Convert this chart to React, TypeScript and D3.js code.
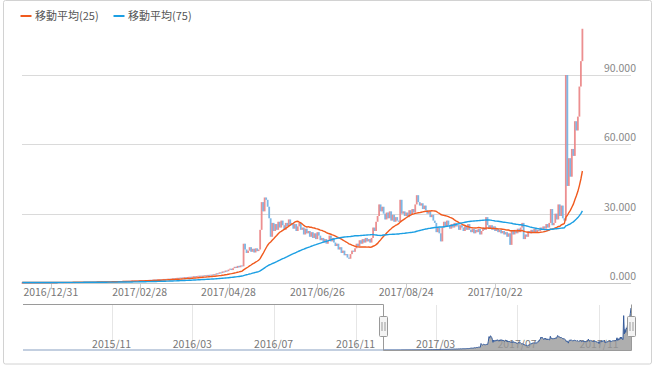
import React, { useMemo } from 'react';
import * as d3 from 'd3';

const WIDTH = 654;
const HEIGHT = 366;
const FONT = '"Noto Sans CJK JP", "Noto Sans", sans-serif';

// daily closes, first day 2016-12-12, last day 2017-12-19
const startDate = '2016-12-12';
const closes: number[] = [
  0.20, 0.21, 0.20, 0.22, 0.21, 0.22, 0.23, 0.22, 0.24, 0.23,
  0.24, 0.25, 0.24, 0.26, 0.25, 0.27, 0.26, 0.28, 0.27, 0.26,
  0.28, 0.30, 0.29, 0.31, 0.30, 0.32, 0.31, 0.30, 0.33, 0.34,
  0.33, 0.35, 0.34, 0.36, 0.38, 0.37, 0.39, 0.38, 0.40, 0.42,
  0.41, 0.43, 0.45, 0.44, 0.46, 0.48, 0.47, 0.50, 0.52, 0.51,
  0.55, 0.53, 0.58, 0.60, 0.57, 0.62, 0.65, 0.63, 0.68, 0.66,
  0.70, 0.74, 0.71, 0.78, 0.82, 0.79, 0.85, 0.90, 0.86, 0.92,
  0.95, 0.91, 1.00, 1.05, 0.98, 1.08, 1.12, 1.06, 1.15, 1.20,
  1.14, 1.25, 1.30, 1.22, 1.35, 1.40, 1.33, 1.45, 1.52, 1.46,
  1.55, 1.60, 1.52, 1.68, 1.75, 1.66, 1.80, 1.88, 1.78, 1.95,
  2.05, 1.95, 2.15, 2.25, 2.12, 2.35, 2.28, 2.45, 2.55, 2.40,
  2.60, 2.70, 2.55, 2.80, 2.95, 2.75, 3.00, 3.15, 2.90, 3.20,
  3.10, 3.35, 3.20, 3.50, 3.30, 3.60, 3.40, 3.80, 3.60, 4.20,
  4.00, 4.60, 4.30, 5.00, 4.70, 5.40, 5.10, 5.80, 6.20, 5.60,
  6.40, 7.00, 6.50, 7.40, 6.80, 7.60, 7.20, 17.0, 14.5, 13.0,
  14.0, 15.5, 13.5, 14.8, 13.2, 15.0, 13.8, 14.5, 23.0, 35.0,
  31.0, 37.0, 36.0, 33.0, 28.0, 20.0, 26.0, 22.5, 25.5, 23.0,
  26.5, 24.0, 27.0, 25.0, 23.0, 26.0, 24.5, 27.5, 25.0, 26.0,
  23.5, 25.5, 22.5, 24.5, 26.0, 23.0, 24.0, 21.0, 23.5, 21.5,
  22.5, 20.0, 22.0, 19.5, 21.5, 19.0, 22.0, 20.5, 18.5, 19.5,
  17.5, 19.0, 17.0, 18.5, 20.5, 18.0, 19.5, 17.5, 16.0, 17.0,
  14.5, 15.5, 13.0, 14.0, 12.0, 12.5, 11.0, 10.5, 12.5, 14.0,
  13.5, 15.0, 17.0, 16.0, 18.5, 17.0, 19.0, 17.5, 19.5, 18.0,
  19.0, 17.5, 19.5, 24.0, 22.5, 26.5, 29.0, 34.0, 31.0, 33.0,
  30.0, 27.5, 30.5, 28.0, 31.0, 27.0, 29.5, 26.5, 28.5, 27.0,
  26.5, 36.0, 30.0, 31.0, 29.0, 30.5, 28.5, 31.5, 29.5, 32.0,
  30.5, 34.0, 38.0, 35.0, 33.5, 34.5, 32.0, 33.5, 31.5, 30.0,
  31.0, 28.5, 29.5, 27.0, 26.0, 22.0, 24.0, 21.5, 18.0, 24.0,
  26.5, 24.5, 27.0, 25.0, 23.5, 25.5, 24.0, 26.0, 24.5, 25.0,
  23.0, 25.0, 24.0, 22.5, 24.5, 23.0, 25.5, 23.0, 22.0, 23.5,
  21.5, 23.0, 22.0, 23.5, 21.0, 22.5, 24.0, 23.0, 28.5, 25.0,
  23.5, 25.0, 23.0, 24.5, 22.5, 23.5, 22.0, 23.0, 21.5, 22.5,
  21.0, 22.0, 20.0, 21.5, 16.5, 22.5, 21.0, 23.0, 21.5, 23.5,
  22.0, 24.0, 26.0, 19.0, 21.0, 20.0, 22.5, 21.5, 23.0, 22.0,
  23.5, 22.0, 23.0, 22.5, 24.0, 23.0, 24.5, 23.5, 25.5, 24.0,
  26.0, 32.0, 25.0, 26.0, 30.0, 27.5, 34.0, 29.0, 33.5, 28.0,
  27.0, 90.0, 42.0, 54.0, 46.0, 58.0, 55.0, 70.0, 66.0, 72.0,
  85.0, 96.0, 110.0,
];

// navigator only: closes before the zoomed range
const earlyDates = [
  '2015-06-21', '2015-07-21', '2015-08-21', '2015-09-21', '2015-10-21', '2015-11-21',
  '2015-12-21', '2016-01-21', '2016-02-21', '2016-03-21', '2016-04-21', '2016-05-21',
  '2016-06-21', '2016-07-21', '2016-08-21', '2016-09-21', '2016-10-21', '2016-11-21',
];
const earlyCloses = [
  0.02, 0.02, 0.03, 0.03, 0.04, 0.04, 0.05, 0.06, 0.07, 0.08, 0.09, 0.10,
  0.12, 0.13, 0.14, 0.15, 0.17, 0.19,
];

const yTicks = [0, 30, 60, 90];
const xTickDates = ['2016-12-31', '2017-02-28', '2017-04-28', '2017-06-26', '2017-08-24', '2017-10-22'];
const navTickDates = ['2015-11-01', '2016-03-01', '2016-07-01', '2016-11-01', '2017-03-01', '2017-07-01', '2017-11-01'];
const maPeriods = [25, 75];
const maNames = ['移動平均(25)', '移動平均(75)'];
const maColors = ['#f05a1e', '#1c9fe3'];

const parse = d3.utcParse('%Y-%m-%d');

export default function App() {
  const start = parse(startDate)!;
  const candles = useMemo(
    () =>
      closes.map((c, i) => ({
        date: d3.utcDay.offset(start, i),
        open: i > 0 ? closes[i - 1] : c,
        close: c,
      })),
    []
  );

  // main scales
  const x = d3.scaleUtc()
    .domain([start, candles[candles.length - 1].date])
    .range([22.2, 582.4]);
  const y = d3.scaleLinear().domain([0, 90]).range([283, 75]);

  // moving averages computed from the closes
  const maSeries = maPeriods.map(p =>
    candles.map((d, i) => {
      const w = closes.slice(Math.max(0, i - p + 1), i + 1);
      return { date: d.date, value: d3.mean(w) as number };
    })
  );
  const maLine = d3.line<{ date: Date; value: number }>()
    .x(d => x(d.date))
    .y(d => y(d.value));

  // navigator
  const navData = [
    ...earlyDates.map((d, i) => ({ date: parse(d)!, value: earlyCloses[i] })),
    ...candles.map(d => ({ date: d.date, value: d.close })),
  ];
  const navX = d3.scaleUtc()
    .domain([parse('2015-06-21')!, candles[candles.length - 1].date])
    .range([23, 631]);
  const navY = d3.scaleLinear().domain([0, 110]).range([350, 308]);
  const navLine = d3.line<{ date: Date; value: number }>()
    .x(d => navX(d.date))
    .y(d => navY(d.value));
  const navArea = d3.area<{ date: Date; value: number }>()
    .x(d => navX(d.date))
    .y0(navY(0))
    .y1(d => navY(d.value));
  const selStart = navX(start);
  const selEnd = 631.5;
  const outside = navData.filter(d => d.date <= start);
  const inside = navData.filter(d => d.date >= start);

  const fmtDay = d3.utcFormat('%Y/%m/%d');
  const fmtMonth = d3.utcFormat('%Y/%m');
  const fmtY = d3.format('.3f');

  return (
    <svg
      width={WIDTH}
      height={HEIGHT}
      style={{ position: 'absolute', left: 0, top: 0, background: '#fff', fontFamily: FONT }}
    >
      <rect x={3.5} y={0.5} width={648} height={363.5} rx={2} fill="#fff" stroke="#d2d2d2" />

      {/* legend */}
      {maNames.map((name, i) => {
        const lx = i === 0 ? 20.5 : 113.5;
        return (
          <g key={name}>
            <line x1={lx} x2={lx + 11} y1={16} y2={16} stroke={maColors[i]} strokeWidth={2} />
            <text x={lx + 14.5} y={20} fontSize={11} fill="#555">{name}</text>
          </g>
        );
      })}

      {/* grid + y labels */}
      {yTicks.map(t => (
        <g key={t}>
          <line x1={22} x2={631} y1={Math.round(y(t)) + 0.5} y2={Math.round(y(t)) + 0.5}
            stroke={t === 0 ? '#c8c8c8' : '#dadada'} />
          <text x={636} y={y(t) - 3} fontSize={10.5} fill="#888" textAnchor="end">{fmtY(t)}</text>
        </g>
      ))}

      {/* x axis */}
      {xTickDates.map(s => {
        const d = parse(s)!;
        const tx = Math.round(x(d)) + 0.5;
        return (
          <g key={s}>
            <line x1={tx} x2={tx} y1={284} y2={289} stroke="#cccccc" />
            <text x={x(d)} y={296} fontSize={10.5} fill="#777" textAnchor="middle">{fmtDay(d)}</text>
          </g>
        );
      })}

      {/* candles */}
      <g>
        {candles.map((d, i) => {
          const up = d.close >= d.open;
          const top = y(Math.max(d.open, d.close));
          const h = Math.max(1, Math.abs(y(d.open) - y(d.close)));
          return (
            <rect
              key={i}
              x={x(d.date) - 0.9}
              y={top}
              width={1.8}
              height={h}
              fill={up ? '#ea8587' : '#72b2e4'}
              opacity={0.92}
            />
          );
        })}
      </g>

      {/* moving averages */}
      {maSeries.map((s, i) => (
        <path key={i} d={maLine(s) || ''} fill="none" stroke={maColors[i]} strokeWidth={1.4} />
      ))}

      {/* navigator */}
      <g>
        {navTickDates.map(s => {
          const d = parse(s)!;
          const gx = Math.round(navX(d)) + 0.5;
          return (
            <g key={s}>
              <line x1={gx} x2={gx} y1={305} y2={351} stroke="#e6e6e6" />
              <text x={navX(d)} y={348} fontSize={10.5} fill="#777" textAnchor="middle">{fmtMonth(d)}</text>
            </g>
          );
        })}
        <path d={navArea(inside) || ''} fill="#9a9a9a" opacity={0.8} />
        <path d={navLine(outside) || ''} fill="none" stroke="#c3cfe0" strokeWidth={2} />
        <path d={navLine(inside) || ''} fill="none" stroke="#365c9c" strokeWidth={1} />
        <path
          d={`M23,304.5H${Math.round(selStart) + 0.5}V350.5H${selEnd}V304.5`}
          fill="none"
          stroke="#9a9a9a"
        />
        {[Math.round(selStart) + 0.5, selEnd].map((hx, i) => (
          <g key={i}>
            <rect x={hx - 4} y={316.5} width={8} height={20} rx={1} fill="#f4f4f4" stroke="#999" />
            <line x1={hx - 1.5} x2={hx - 1.5} y1={322} y2={331} stroke="#999" />
            <line x1={hx + 1.5} x2={hx + 1.5} y1={322} y2={331} stroke="#999" />
          </g>
        ))}
      </g>
    </svg>
  );
}
